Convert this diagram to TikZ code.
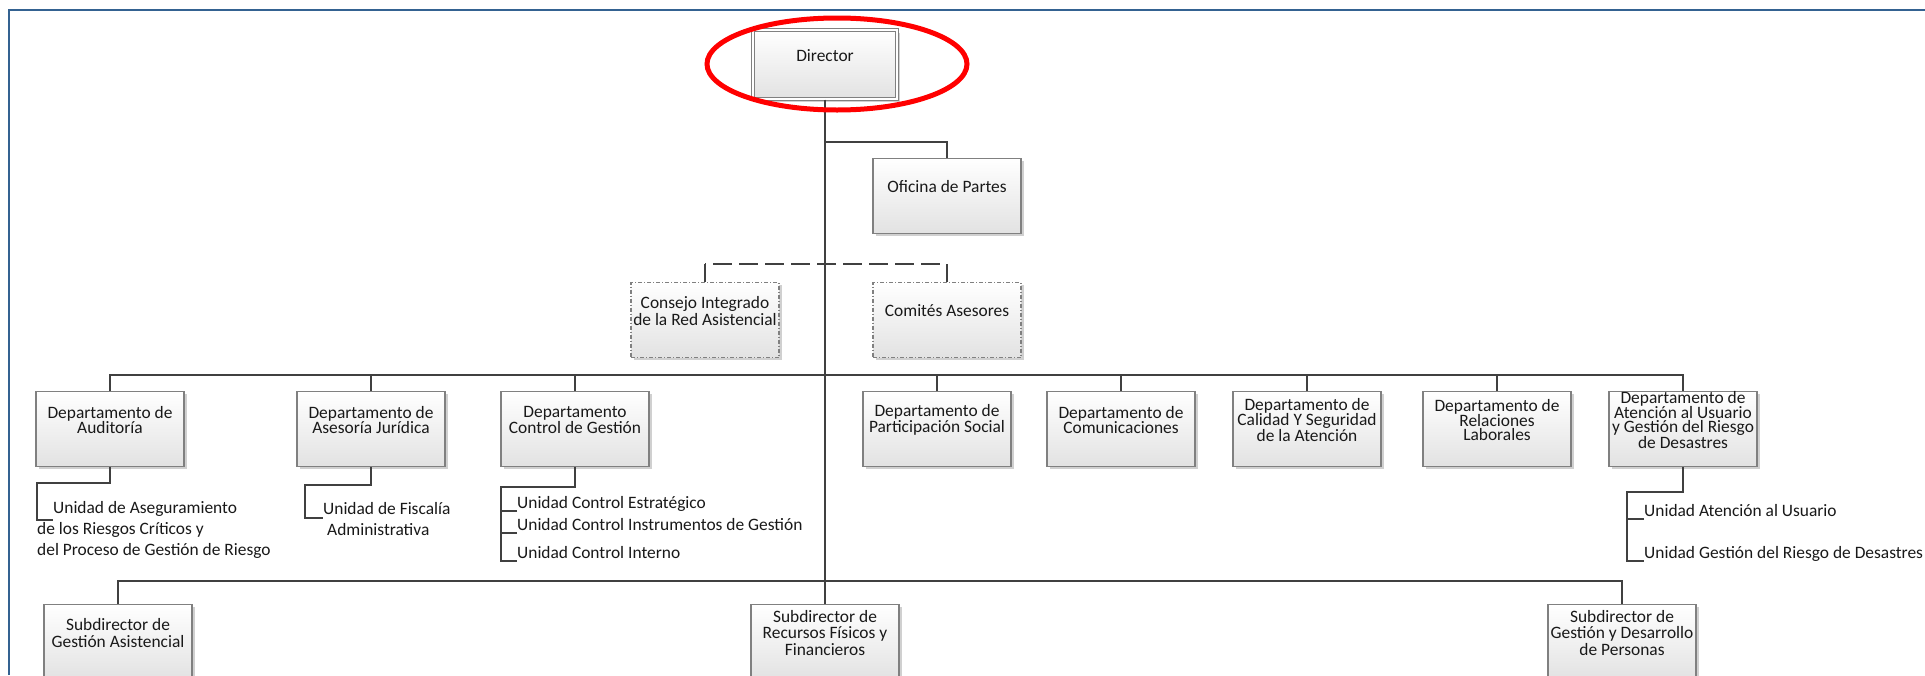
\documentclass[tikz,border=0pt]{standalone}
\usepackage{fontspec}
\setmainfont{Carlito}
\usepackage{tikz}
\usetikzlibrary{shadows}

\definecolor{framecol}{RGB}{52,98,145}
\definecolor{linecol}{RGB}{64,64,64}
\definecolor{boxline}{RGB}{128,128,128}
\definecolor{boxbot}{RGB}{226,226,226}
\definecolor{txtcol}{RGB}{25,25,25}

\begin{document}
\begin{tikzpicture}[x=1pt,y=-1pt,
  font=\fontsize{17.4}{14}\selectfont,
  txt/.style={text=txtcol, align=center, inner sep=0pt},
  unittext/.style={text=txtcol, align=left, inner sep=0pt, font=\fontsize{17.4}{21}\selectfont},
  boxshape/.style={draw=boxline, line width=1.2pt, top color=white, bottom color=boxbot,
    minimum width=148pt, minimum height=75pt, inner sep=0pt,
    drop shadow={shadow xshift=2.5pt, shadow yshift=-2.5pt, fill=black!30, opacity=0.6}},
  orgbox/.style={boxshape, label={[txt, yshift=9pt]center:{#1}}},
  subbox/.style={boxshape,
    label={[txt, yshift=9pt, font=\fontsize{17.4}{16.5}\selectfont]center:{#1}}},
  advbox/.style={orgbox={#1}, dash pattern=on 4pt off 2pt on 1pt off 2pt},
  conn/.style={draw=linecol, line width=2pt},
  dashconn/.style={conn, dash pattern=on 19pt off 7pt, dash phase=-8pt}]

\useasboundingbox (0,0) rectangle (1925,675);
\clip (0,0) rectangle (1925,675);
\fill[white] (0,0) rectangle (1925,675);
\draw[framecol, line width=2.5pt] (9,675) -- (9,10) -- (1925,10);

% {Director};
\node[orgbox={Director}, minimum width=144pt, minimum height=69pt,
  double=white, double distance=2pt] (director) at (825,64.5) {};
\node[orgbox={Oficina de Partes}] (oficina) at (947,196) {};

% {Consejo y Comites};
\node[advbox={Consejo Integrado\\de la Red Asistencial}] (consejo) at (705,320) {};
\node[advbox={Comités Asesores}] (comites) at (947,320) {};

% {Departamentos};
\node[orgbox={Departamento de\\Auditoría}] (auditoria) at (110,429) {};
\node[orgbox={Departamento de\\Asesoría Jurídica}] (juridica) at (371,429) {};
\node[orgbox={Departamento\\Control de Gestión}] (control) at (575,429) {};
\node[orgbox={Departamento de\\Participación Social}] (particip) at (937,429) {};
\node[orgbox={Departamento de\\Comunicaciones}] (comunic) at (1121,429) {};
\node[orgbox={Departamento de\\Calidad Y Seguridad\\de la Atención}] (calidad) at (1307,429) {};
\node[orgbox={Departamento de\\Relaciones\\Laborales}] (relaciones) at (1497,429) {};
\node[orgbox={Departamento de\\Atención al Usuario\\y Gestión del Riesgo\\de Desastres}] (atencion) at (1683,429) {};

% {Subdirecciones};
\node[subbox={Subdirector de\\Gestión Asistencial}] (subasist) at (118,642) {};
\node[subbox={Subdirector de\\Recursos Físicos y\\Financieros}] (subrecursos) at (825,642) {};
\node[subbox={Subdirector de\\Gestión y Desarrollo\\de Personas}] (subpersonas) at (1622,642) {};

% {Unidades};
\node[unittext, anchor=north west] (asegura) at (37,501)
  {\hspace*{16pt}Unidad de Aseguramiento\\de los Riesgos Críticos y\\del Proceso de Gestión de Riesgo};
\node[unittext, anchor=north west] (fiscalia) at (323,502)
  {Unidad de Fiscalía\\\hspace*{4pt}Administrativa};
\node[unittext, anchor=base west] (estrategico) at (517,508) {Unidad Control Estratégico};
\node[unittext, anchor=base west] (instrumentos) at (517,530) {Unidad Control Instrumentos de Gestión};
\node[unittext, anchor=base west] (interno) at (517,558) {Unidad Control Interno};
\node[unittext, anchor=base west] (usuario) at (1644,516) {Unidad Atención al Usuario};
\node[unittext, anchor=base west] (desastres) at (1644,558) {Unidad Gestión del Riesgo de Desastres};

% tronco y ramas
\coordinate (jofi) at (825,142);
\coordinate (jase) at (825,264);
\coordinate (jdep) at (825,375);
\coordinate (jsub) at (825,581);
\draw[conn] (director.south) -- (subrecursos.north);
\draw[conn] (jofi) -| (oficina.north);
\draw[dashconn] (consejo.north |- jase) -- (comites.north |- jase);
\draw[conn] (consejo.north) -- (consejo.north |- jase);
\draw[conn] (comites.north) -- (comites.north |- jase);
\draw[conn] (auditoria.north) |- (jdep) -| (atencion.north);
\foreach \d in {juridica,control,particip,comunic,calidad,relaciones}
  \draw[conn] (\d.north) -- (\d.north |- jdep);
\draw[conn] (subasist.north) |- (jsub) -| (subpersonas.north);

% ramas de unidades
\coordinate (audbr) at (37,483);
\draw[conn] (auditoria.south) |- (audbr) -- ([yshift=-19pt]asegura.north west) -- ++(16,0);
\coordinate (jurbr) at (305,485);
\draw[conn] (juridica.south) |- (jurbr) -- ([xshift=-18pt,yshift=-16pt]fiscalia.north west)
  -- ([yshift=-16pt]fiscalia.north west);
\coordinate (conbr) at (501,487);
\draw[conn] (control.south) |- (conbr) |- ([yshift=-3pt]interno.base west);
\foreach \u in {estrategico,instrumentos}
  \draw[conn] ([yshift=-3pt]\u.base west) -| (conbr);
\coordinate (atebr) at (1627,492);
\draw[conn] (atencion.south) |- (atebr) |- ([yshift=-3pt]desastres.base west);
\draw[conn] ([yshift=-3pt]usuario.base west) -| (atebr);

% marca
\draw[red, line width=5pt] (837,64) ellipse [x radius=130pt, y radius=46pt];
\end{tikzpicture}
\end{document}
